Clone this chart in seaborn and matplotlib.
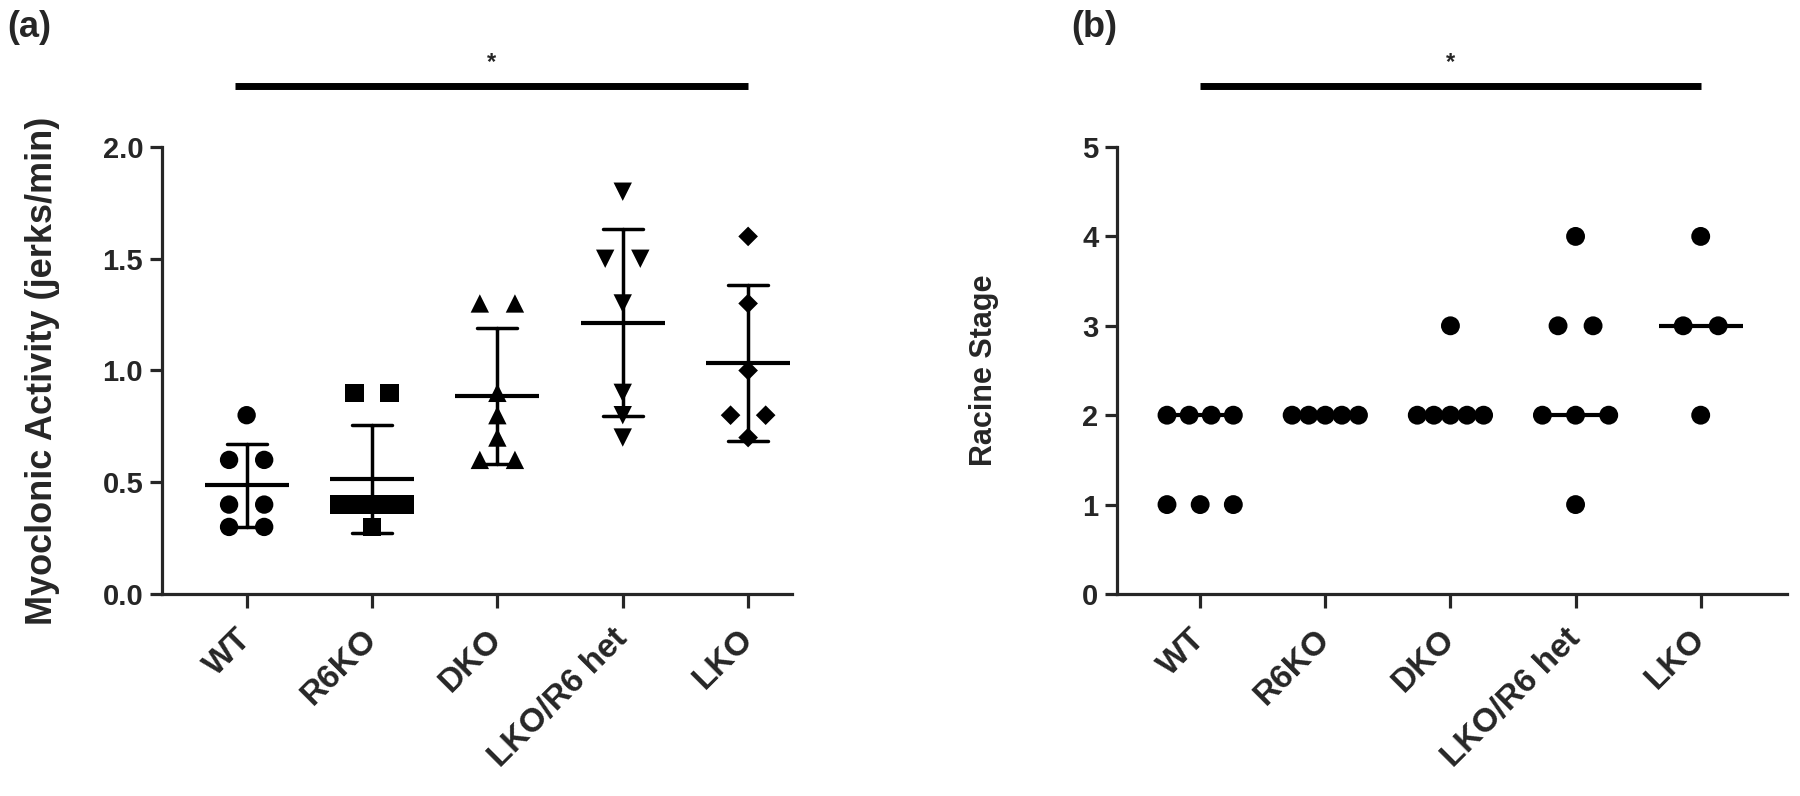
import numpy as np
import pandas as pd
import matplotlib.pyplot as plt
import matplotlib.transforms as mtransforms
import seaborn as sns

# -----------------------------
# Data
# -----------------------------
groups = ["WT", "R6KO", "DKO", "LKO/R6 het", "LKO"]

# (a) myoclonic jerks per minute
wt_jerks = [0.8, 0.6, 0.6, 0.4, 0.4, 0.3, 0.3]
r6ko_jerks = [0.9, 0.9, 0.4, 0.4, 0.4, 0.4, 0.4, 0.3]
dko_jerks = [1.3, 1.3, 0.9, 0.8, 0.7, 0.6, 0.6]
het_jerks = [1.8, 1.5, 1.5, 1.3, 0.9, 0.8, 0.7]
lko_jerks = [1.6, 1.3, 1.0, 0.8, 0.8, 0.7]

# (b) Racine stage
wt_racine = [2, 2, 2, 2, 1, 1, 1]
r6ko_racine = [2, 2, 2, 2, 2]
dko_racine = [3, 2, 2, 2, 2, 2]
het_racine = [4, 3, 3, 2, 2, 2, 1]
lko_racine = [4, 3, 3, 2]

jerks = [wt_jerks, r6ko_jerks, dko_jerks, het_jerks, lko_jerks]
racine = [wt_racine, r6ko_racine, dko_racine, het_racine, lko_racine]
markers_a = ["o", "s", "^", "v", "D"]
sizes_a = [175, 175, 175, 175, 100]


def long_df(series):
    rows = []
    for g, vals in zip(groups, series):
        for v in vals:
            rows.append((g, v))
    return pd.DataFrame(rows, columns=["group", "value"])


def spread(vals, step_max=0.28, span=0.53):
    # spread points sharing the same value side by side, like a prism scatter
    vals = np.asarray(vals, dtype=float)
    offs = np.zeros(len(vals))
    for v in np.unique(vals):
        idx = np.where(vals == v)[0]
        k = len(idx)
        if k > 1:
            step = min(step_max, span / (k - 1))
            offs[idx] = (np.arange(k) - (k - 1) / 2) * step
    return offs


def style_axes(ax, ylim, yticks, yticklabels, ylabel, label_size, label_x, xlim):
    ax.set_xlim(*xlim)
    ax.set_ylim(*ylim)
    ax.set_yticks(yticks)
    ax.set_yticklabels(yticklabels, fontsize=21, fontweight="bold")
    ax.set_xticks(range(len(groups)))
    ax.set_xticklabels(groups, rotation=45, ha="right", va="center",
                       rotation_mode="anchor", fontsize=24, fontweight="bold")
    ax.set_xlabel("")
    ax.set_ylabel(ylabel, fontsize=label_size, fontweight="bold")
    ax.yaxis.set_label_coords(label_x, 0.5)
    sns.despine(ax=ax)
    for s in ["left", "bottom"]:
        ax.spines[s].set_linewidth(2.3)
    ax.tick_params(axis="x", length=10, width=2.3, pad=19)
    ax.tick_params(axis="y", length=8.5, width=2.3, pad=5)


def sig_bar(ax, x0, x1):
    tr = mtransforms.blended_transform_factory(ax.transData, ax.transAxes)
    ax.plot([x0, x1], [1.136, 1.136], transform=tr, clip_on=False,
            color="black", lw=5, solid_capstyle="butt")
    ax.text((x0 + x1) / 2, 1.19, "*", transform=tr, ha="center", va="center",
            fontsize=17, fontweight="bold")


sns.set_style("ticks")
plt.rcParams["font.family"] = ["Liberation Sans", "DejaVu Sans"]
plt.rcParams["font.weight"] = "bold"
plt.rcParams["axes.labelweight"] = "bold"

fig = plt.figure(figsize=(18, 7.96), dpi=100)
ax_a = fig.add_axes([0.09, 0.2538, 0.35, 0.5615])
ax_b = fig.add_axes([0.6206, 0.2538, 0.3722, 0.5615])

# -----------------------------
# (a) mean +/- SD with scatter
# -----------------------------
df_a = long_df(jerks)
sns.pointplot(data=df_a, x="group", y="value", order=groups, estimator="mean",
              errorbar="sd", capsize=0.32, color="black", markers="_",
              linestyles="none", markersize=60, markeredgewidth=3,
              err_kws={"linewidth": 2.5}, ax=ax_a)
for i, vals in enumerate(jerks):
    sns.scatterplot(x=i + spread(vals), y=vals, marker=markers_a[i],
                    s=sizes_a[i], color="black", edgecolor="none",
                    linewidth=0, ax=ax_a, zorder=3, legend=False)
style_axes(ax_a, (0, 2.0), [0, 0.5, 1.0, 1.5, 2.0],
           ["0.0", "0.5", "1.0", "1.5", "2.0"],
           "Myoclonic Activity (jerks/min)", 26, -0.162, (-0.675, 4.35))
sig_bar(ax_a, -0.09, 4)

# -----------------------------
# (b) median with scatter
# -----------------------------
df_b = long_df(racine)
sns.pointplot(data=df_b, x="group", y="value", order=groups,
              estimator="median", errorbar=None, color="black", markers="_",
              linestyles="none", markersize=60, markeredgewidth=3, ax=ax_b)
for i, vals in enumerate(racine):
    sns.scatterplot(x=i + spread(vals), y=vals, marker="o", s=185,
                    color="black", edgecolor="none", linewidth=0, ax=ax_b,
                    zorder=3, legend=False)
style_axes(ax_b, (0, 5), [0, 1, 2, 3, 4, 5], ["0", "1", "2", "3", "4", "5"],
           "Racine Stage", 22, -0.176, (-0.664, 4.69))
sig_bar(ax_b, 0, 4)

fig.text(0.004, 0.988, "(a)", fontsize=26, fontweight="bold", va="top")
fig.text(0.595, 0.988, "(b)", fontsize=26, fontweight="bold", va="top")

fig.savefig("out.png", dpi=100)
